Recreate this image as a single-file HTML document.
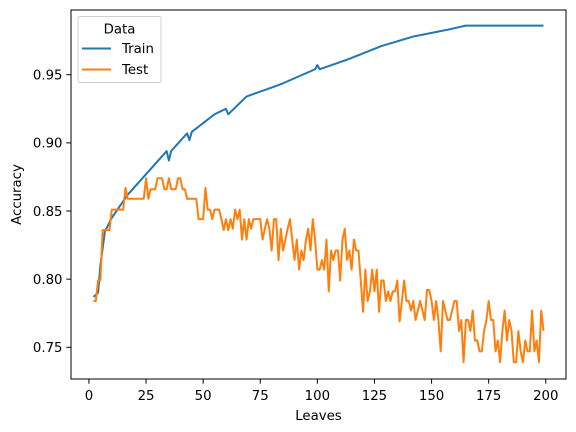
<!DOCTYPE html>
<html><head><meta charset="utf-8"><style>
html,body{margin:0;padding:0;background:#fff;}
svg{display:block;font-family:"DejaVu Sans","Liberation Sans",sans-serif;}
</style></head><body>
<svg id="chart" width="576" height="432" viewBox="0 0 576 432" xmlns="http://www.w3.org/2000/svg">
<rect x="0" y="0" width="576" height="432" fill="#fff"/>
<g id="plot"></g>
</svg>
<script>
const leaves = [];
for (let i = 2; i <= 199; i++) leaves.push(i);
const trainKnots = [2,4,5,7,10,17,25,33,34,35,36,43,44,45,55,60,61,69,84,99,100,101,113,128,142,157,165,199];
const trainKnotVals = [0.787,0.79,0.81,0.835,0.845,0.862,0.877,0.892,0.894,0.887,0.894,0.907,0.902,0.908,0.921,0.925,0.921,0.934,0.943,0.954,0.957,0.954,0.961,0.971,0.978,0.983,0.986,0.986];
const testValues = [
0.784,0.784,0.799,0.799,0.836,0.836,0.836,0.836,0.851,0.851,0.851,0.851,0.851,0.851,0.867,
0.859,0.859,0.859,0.859,0.859,0.859,0.859,0.859,0.874,0.859,0.866,0.866,0.866,0.874,0.874,0.874,
0.866,0.866,0.874,0.866,0.866,0.866,0.874,0.874,0.866,0.866,0.859,0.859,0.859,0.859,0.859,
0.844,0.844,0.844,0.867,0.851,0.851,0.844,0.851,0.851,0.851,0.844,0.836,0.844,0.836,
0.844,0.837,0.851,0.844,0.851,0.829,0.844,0.829,0.844,0.837,0.844,0.844,0.844,0.844,0.829,0.837,
0.844,0.837,0.821,0.844,0.844,0.814,0.837,0.821,0.829,0.837,0.844,0.829,0.814,0.829,0.807,0.821,
0.814,0.829,0.837,0.821,0.844,0.829,0.807,0.807,0.814,0.807,0.829,0.791,0.821,0.814,0.821,0.821,
0.799,0.829,0.837,0.814,0.821,0.807,0.829,0.821,0.821,0.799,0.776,0.807,0.784,0.791,0.807,0.791,
0.807,0.776,0.799,0.799,0.784,0.791,0.784,0.791,0.791,0.799,0.769,
0.784,0.799,0.784,0.784,0.777,0.784,0.770,0.777,0.784,0.777,0.770,0.792,0.792,0.784,0.770,0.784,
0.770,0.747,0.784,0.777,0.770,0.770,0.777,0.784,0.784,0.762,0.770,0.739,0.770,0.770,0.762,0.777,
0.755,0.755,0.747,0.747,0.762,0.770,0.784,0.770,0.770,0.747,0.755,0.739,0.762,0.777,0.755,0.770,
0.762,0.739,0.739,0.762,0.747,0.739,0.755,0.747,0.747,0.777,0.747,0.755,0.739,0.777,0.762];
const xTicks = [0,25,50,75,100,125,150,175,200];
const yTicks = [0.75,0.80,0.85,0.90,0.95];
const yTickLabels = ["0.75","0.80","0.85","0.90","0.95"];

const AX = {l:71, r:566, t:10, b:379};
const X0 = -7.85, X1 = 208.85;
const Y75 = 347.3, Y95 = 74.7;
function sx(v){ return AX.l + (v - X0) / (X1 - X0) * (AX.r - AX.l); }
function sy(v){ return Y75 + (v - 0.75) / 0.20 * (Y95 - Y75); }
function trainAt(x){
  for (let k = 0; k < trainKnots.length - 1; k++) {
    if (x >= trainKnots[k] && x <= trainKnots[k+1]) {
      const t = (x - trainKnots[k]) / (trainKnots[k+1] - trainKnots[k]);
      return trainKnotVals[k] + t * (trainKnotVals[k+1] - trainKnotVals[k]);
    }
  }
  return trainKnotVals[trainKnotVals.length-1];
}
const trainValues = leaves.map(trainAt);

const NS = "http://www.w3.org/2000/svg";
const g = document.getElementById('plot');
function mk(tag, attrs, parent){
  const e = document.createElementNS(NS, tag);
  for (const k in attrs) e.setAttribute(k, attrs[k]);
  (parent || g).appendChild(e);
  return e;
}
function seriesPath(vals){
  return vals.map((v,i)=>(i?'L':'M')+sx(leaves[i]).toFixed(2)+' '+sy(v).toFixed(2)).join(' ');
}
const trainLine = mk('path', {d: seriesPath(trainValues), fill:'none', stroke:'#1f77b4', 'stroke-width':2, 'stroke-linejoin':'round'});


const testLine = mk('path', {d: seriesPath(testValues), fill:'none', stroke:'#ff7f0e', 'stroke-width':2, 'stroke-linejoin':'round'});



const frame = mk('rect', {x:AX.l, y:AX.t, width:AX.r-AX.l, height:AX.b-AX.t, fill:'none', stroke:'#000', 'stroke-width':1});



xTicks.forEach(t=>{
  const x = sx(t);
  const tk = mk('line', {x1:x, x2:x, y1:AX.b, y2:AX.b+4.7, stroke:'#000', 'stroke-width':1});
  
  
  const lb = mk('text', {x:x, y:AX.b+21, 'font-size':13.3, 'text-anchor':'middle', fill:'#000'});
  lb.textContent = String(t);
  
  
});
yTicks.forEach((t,i)=>{
  const y = sy(t);
  const tk = mk('line', {x1:AX.l-4.7, x2:AX.l, y1:y, y2:y, stroke:'#000', 'stroke-width':1});
  
  
  const lb = mk('text', {x:AX.l-8.5, y:y+4.8, 'font-size':13.3, 'text-anchor':'end', fill:'#000'});
  lb.textContent = yTickLabels[i];
  
  
});
</script>
<svg style="position:absolute;left:0;top:0" width="576" height="432">
<text x="318.5" y="420" font-size="13.3" text-anchor="middle" font-family="DejaVu Sans, Liberation Sans, sans-serif">Leaves</text>
<text x="0" y="0" transform="translate(21,194.5) rotate(-90)" font-size="13.3" text-anchor="middle" font-family="DejaVu Sans, Liberation Sans, sans-serif">Accuracy</text>
<g font-family="DejaVu Sans, Liberation Sans, sans-serif" font-size="13.3">
<rect x="78" y="16.5" width="83" height="66" rx="2" fill="#fff" fill-opacity="0.8" stroke="#d0d0d0" stroke-width="1"/>
<text x="119.5" y="33.5" text-anchor="middle">Data</text>
<line x1="82" x2="111" y1="48.5" y2="48.5" stroke="#1f77b4" stroke-width="2"/>
<text x="122" y="53">Train</text>
<line x1="82" x2="111" y1="69.5" y2="69.5" stroke="#ff7f0e" stroke-width="2"/>
<text x="122" y="74">Test</text>
</g>
</svg>
</body></html>
